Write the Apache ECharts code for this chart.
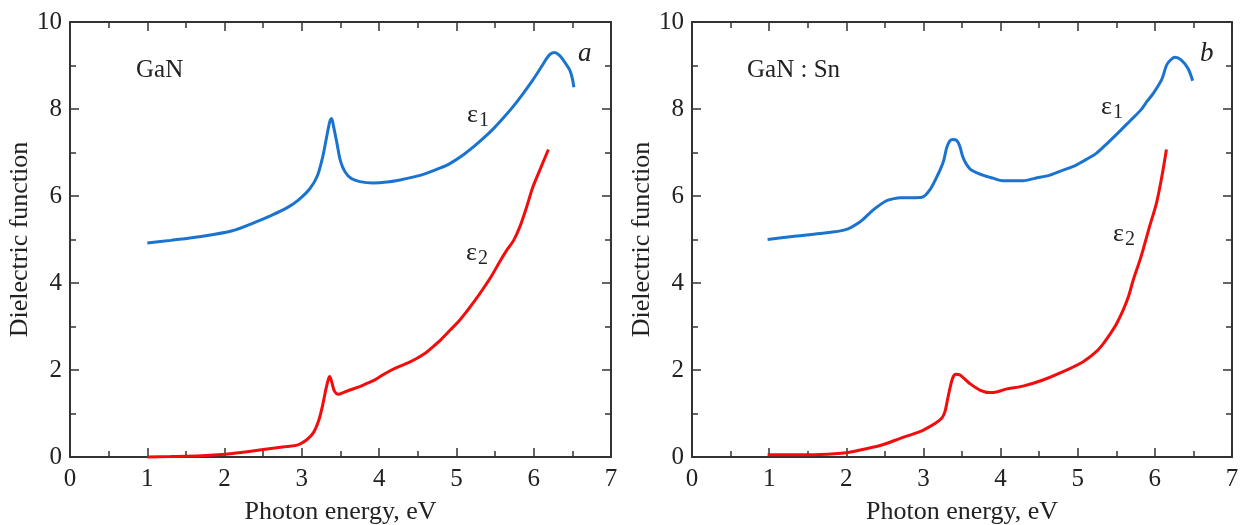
<!DOCTYPE html>
<html>
<head>
<meta charset="utf-8">
<script src="https://cdn.jsdelivr.net/npm/echarts@6/dist/echarts.min.js"></script>
<style>
html,body{margin:0;padding:0;background:#fff;}
#c{width:1243px;height:525px;}
</style>
</head>
<body>
<div id="c"></div>
<script>
// ---- data (photon energy eV, dielectric function) ----
var ganEps1 = [[1.0,4.92],[1.3,4.98],[1.7,5.07],[2.1,5.2],[2.4,5.4],[2.6,5.55],[2.8,5.72],[2.95,5.9],[3.1,6.16],[3.2,6.46],[3.27,6.9],[3.32,7.35],[3.36,7.7],[3.385,7.78],[3.41,7.6],[3.45,7.25],[3.5,6.8],[3.56,6.55],[3.64,6.4],[3.75,6.33],[3.92,6.30],[4.1,6.32],[4.27,6.37],[4.45,6.44],[4.61,6.52],[4.8,6.65],[4.92,6.75],[5.1,6.96],[5.22,7.13],[5.35,7.33],[5.48,7.55],[5.6,7.78],[5.73,8.05],[5.86,8.35],[5.99,8.67],[6.1,8.97],[6.17,9.17],[6.22,9.27],[6.27,9.30],[6.33,9.24],[6.38,9.13],[6.43,9.0],[6.47,8.88],[6.5,8.7],[6.52,8.5]];
var ganEps2 = [[1.0,0.0],[1.3,0.01],[1.7,0.03],[2.1,0.08],[2.5,0.17],[2.8,0.24],[2.95,0.28],[3.06,0.39],[3.15,0.56],[3.22,0.85],[3.27,1.2],[3.31,1.55],[3.345,1.8],[3.36,1.85],[3.39,1.7],[3.42,1.52],[3.47,1.44],[3.55,1.49],[3.62,1.54],[3.75,1.62],[3.84,1.69],[3.95,1.78],[4.05,1.89],[4.16,2.0],[4.27,2.09],[4.38,2.17],[4.49,2.27],[4.6,2.39],[4.7,2.54],[4.8,2.7],[4.92,2.92],[5.03,3.12],[5.13,3.34],[5.24,3.6],[5.35,3.88],[5.46,4.18],[5.56,4.49],[5.65,4.75],[5.74,4.98],[5.82,5.29],[5.9,5.7],[5.99,6.21],[6.08,6.6],[6.19,7.07]];
var ganSnEps1 = [[0.98,5.0],[1.3,5.07],[1.66,5.14],[1.98,5.22],[2.18,5.41],[2.35,5.68],[2.52,5.89],[2.62,5.94],[2.70,5.96],[2.85,5.96],[2.98,5.97],[3.09,6.16],[3.19,6.5],[3.26,6.8],[3.3,7.1],[3.34,7.26],[3.38,7.30],[3.43,7.28],[3.47,7.15],[3.51,6.9],[3.56,6.72],[3.62,6.6],[3.77,6.48],[3.9,6.41],[4.03,6.35],[4.29,6.35],[4.45,6.41],[4.64,6.48],[4.82,6.6],[4.98,6.71],[5.1,6.83],[5.24,6.98],[5.4,7.24],[5.54,7.48],[5.68,7.73],[5.82,7.98],[5.9,8.18],[5.98,8.36],[6.09,8.68],[6.15,9.0],[6.2,9.12],[6.26,9.19],[6.34,9.13],[6.43,8.93],[6.49,8.65]];
var ganSnEps2 = [[0.98,0.05],[1.3,0.05],[1.66,0.06],[2.0,0.1],[2.18,0.16],[2.39,0.24],[2.52,0.31],[2.7,0.43],[2.87,0.53],[3.0,0.62],[3.16,0.78],[3.24,0.9],[3.28,1.05],[3.31,1.3],[3.34,1.55],[3.38,1.82],[3.42,1.9],[3.47,1.89],[3.53,1.8],[3.6,1.69],[3.73,1.54],[3.86,1.48],[3.96,1.5],[4.07,1.56],[4.29,1.63],[4.55,1.77],[4.81,1.96],[5.07,2.19],[5.24,2.42],[5.33,2.6],[5.41,2.8],[5.5,3.05],[5.59,3.38],[5.66,3.7],[5.72,4.07],[5.82,4.6],[5.93,5.29],[6.02,5.83],[6.09,6.44],[6.15,7.07]];
var xName = 'Photon energy, eV';
var yName = 'Dielectric function';
var panelLabels = ['GaN', 'GaN : Sn'];
var panelLetters = ['a', 'b'];

var FONT = '"Liberation Serif", "DejaVu Serif", serif';
var AX = '#333';
var TXT = '#222';
var BLUE = '#1a74cf';
var RED = '#f20c0c';

function xAxes(gi) {
  var common = {
    type: 'value', gridIndex: gi, min: 0, max: 7, interval: 1,
    axisLine: {show: true, onZero: false, lineStyle: {color: AX, width: 2}},
    axisTick: {show: true, inside: true, length: 9, lineStyle: {color: AX, width: 1.5}},
    minorTick: {show: true, splitNumber: 2, length: 6, lineStyle: {color: AX, width: 1.5}},
    splitLine: {show: false}
  };
  return [
    Object.assign({}, common, {
      position: 'bottom', name: xName, nameLocation: 'middle', nameGap: 42,
      nameTextStyle: {fontFamily: FONT, fontSize: 26, color: TXT},
      axisLabel: {show: true, fontFamily: FONT, fontSize: 25, color: TXT, margin: 10}
    }),
    Object.assign({}, common, {position: 'top', axisLabel: {show: false}})
  ];
}
function yAxes(gi) {
  var common = {
    type: 'value', gridIndex: gi, min: 0, max: 10, interval: 2,
    axisLine: {show: true, onZero: false, lineStyle: {color: AX, width: 2}},
    axisTick: {show: true, inside: true, length: 9, lineStyle: {color: AX, width: 1.5}},
    minorTick: {show: true, splitNumber: 2, length: 6, lineStyle: {color: AX, width: 1.5}},
    splitLine: {show: false}
  };
  return [
    Object.assign({}, common, {
      position: 'left', name: yName, nameLocation: 'middle', nameGap: 31,
      nameTextStyle: {fontFamily: FONT, fontSize: 26, color: TXT},
      axisLabel: {show: true, fontFamily: FONT, fontSize: 25, color: TXT, margin: 8, showMaxLabel: true}
    }),
    Object.assign({}, common, {position: 'right', axisLabel: {show: false}})
  ];
}

function line(data, color, xi, yi) {
  return {
    type: 'line', data: data, xAxisIndex: xi, yAxisIndex: yi,
    showSymbol: false, smooth: 0.3, clip: false,
    lineStyle: {color: color, width: 3}, silent: true, animation: false
  };
}

var rich = {
  e: {fontFamily: FONT, fontSize: 26, fill: TXT},
  s: {fontFamily: FONT, fontSize: 20, fill: TXT, padding: [12, 0, 0, 1]}
};
function epsText(x, y, n) {
  return {
    type: 'text', left: x, top: y,
    style: {text: '{e|ε}{s|' + n + '}', rich: rich, fill: TXT}
  };
}

var option = {
  animation: false,
  backgroundColor: '#fff',
  grid: [
    {left: 70, top: 22, width: 541, height: 435, containLabel: false, outerBoundsMode: 'none'},
    {left: 692, top: 22, width: 540, height: 435, containLabel: false, outerBoundsMode: 'none'}
  ],
  xAxis: xAxes(0).concat(xAxes(1)),
  yAxis: yAxes(0).concat(yAxes(1)),
  series: [
    line(ganEps1, BLUE, 0, 0),
    line(ganEps2, RED, 0, 0),
    line(ganSnEps1, BLUE, 2, 2),
    line(ganSnEps2, RED, 2, 2)
  ],
  graphic: [
    {type: 'text', left: 136, top: 58, style: {text: panelLabels[0], fontFamily: FONT, fontSize: 25, fill: TXT}},
    {type: 'text', left: 578, top: 40, style: {text: panelLetters[0], fontFamily: FONT, fontSize: 27, fontStyle: 'italic', fill: TXT}},
    {type: 'text', left: 747, top: 58, style: {text: panelLabels[1], fontFamily: FONT, fontSize: 25, fill: TXT}},
    {type: 'text', left: 1200, top: 40, style: {text: panelLetters[1], fontFamily: FONT, fontSize: 27, fontStyle: 'italic', fill: TXT}},
    epsText(467, 102, 1),
    epsText(466, 240, 2),
    epsText(1101, 94, 1),
    epsText(1113, 221, 2)
  ]
};
var chart = echarts.init(document.getElementById('c'), null, {renderer: 'canvas'});
chart.setOption(option);
</script>
</body>
</html>
